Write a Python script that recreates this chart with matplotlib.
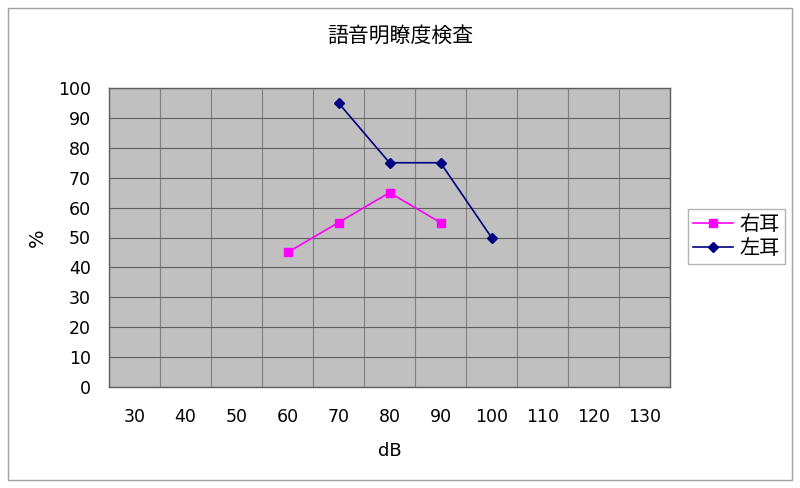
import matplotlib
matplotlib.use("Agg")
import matplotlib.pyplot as plt
from matplotlib.patches import Rectangle
import numpy as np

plt.rcParams['font.family'] = ['DejaVu Sans', 'Noto Sans CJK JP']

title = '語音明瞭度検査'
db_labels = ['30', '40', '50', '60', '70', '80', '90', '100', '110', '120', '130']
# None = no measurement at that level
right_ear = [None, None, None, 45, 55, 65, 55, None, None, None, None]
left_ear = [None, None, None, None, 95, 75, 75, 50, None, None, None]

def to_arr(vals):
    return np.array([np.nan if v is None else v for v in vals], dtype=float)

fig = plt.figure(figsize=(8, 4.88), dpi=100)
fig.patch.set_facecolor('white')
# outer chart border
fig.add_artist(Rectangle((8 / 800, 1 - 480 / 488), 784 / 800, 472 / 488,
                         transform=fig.transFigure, fill=False,
                         edgecolor='#a0a0a0', linewidth=1))

ax = fig.add_axes([109 / 800, 1 - 387 / 488, 561 / 800, 299 / 488])
ax.set_facecolor('#c0c0c0')

x = np.arange(len(db_labels))
ax.plot(x, to_arr(right_ear), color='#ff00ff', marker='s', markersize=6,
        linewidth=1.2, label='右耳')
ax.plot(x, to_arr(left_ear), color='#000080', marker='D', markersize=5,
        linewidth=1.2, label='左耳')

ax.set_xlim(-0.5, len(db_labels) - 0.5)
ax.set_ylim(0, 100)
ax.set_xticks(x)
ax.set_xticklabels(db_labels)
ax.set_xticks(np.arange(len(db_labels) + 1) - 0.5, minor=True)
ax.set_yticks(np.arange(0, 101, 10))
ax.tick_params(axis='both', which='both', length=0, labelsize=12.5)
ax.tick_params(axis='x', pad=15)
ax.tick_params(axis='y', pad=13)
ax.grid(True, which='minor', axis='x', color='#808080', linewidth=0.8)
ax.grid(True, which='major', axis='y', color='#606060', linewidth=0.8)
ax.set_axisbelow(True)
for s in ax.spines.values():
    s.set_color('#606060')
    s.set_linewidth(1)

ax.set_xlabel('dB', fontsize=13, labelpad=12)
ax.set_ylabel('%', fontsize=14, labelpad=8)
fig.text(0.5, 1 - 36 / 488, title, ha='center', va='center', fontsize=15,
         family=['Noto Sans CJK JP', 'DejaVu Sans'])

leg = fig.legend(loc='center', bbox_to_anchor=(736.5 / 800, 1 - 236.5 / 488),
                 prop={'family': ['Noto Sans CJK JP', 'DejaVu Sans'], 'size': 14.5},
                 frameon=True, fancybox=False, handlelength=2.0,
                 borderpad=0.25, labelspacing=0.15, handletextpad=0.3,
                 borderaxespad=0)
leg.get_frame().set_edgecolor('#a0a0a0')
leg.get_frame().set_linewidth(1)

fig.savefig('out.png', dpi=100, facecolor='white')
